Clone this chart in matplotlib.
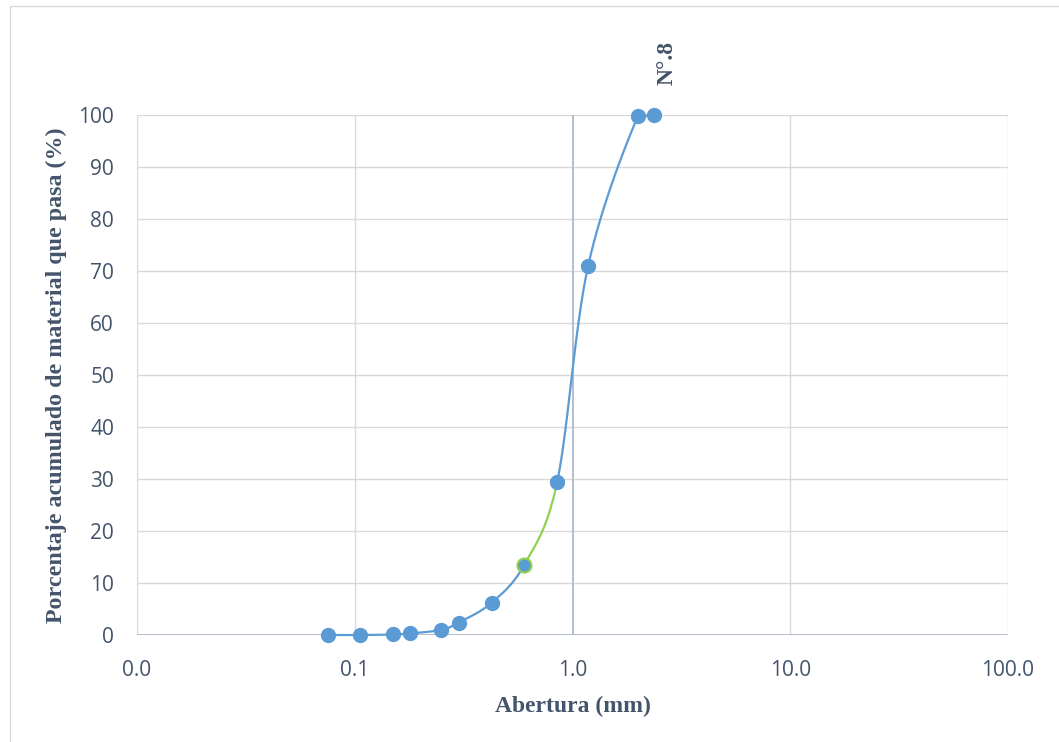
import matplotlib.pyplot as plt
import numpy as np
from matplotlib.patches import Rectangle

# granulometria - abertura das peneiras (mm) e % que passa
abertura = [0.075, 0.106, 0.15, 0.18, 0.25, 0.30, 0.425, 0.60, 0.85, 1.18, 2.00, 2.36]
passa = [0.0, 0.0, 0.1, 0.3, 1.0, 2.4, 6.2, 13.5, 29.4, 71.0, 99.8, 100.0]
xticks = [0.01, 0.1, 1, 10, 100]
xtick_labels = ["0.0", "0.1", "1.0", "10.0", "100.0"]
yticks = list(range(0, 101, 10))

azul = "#5B9BD5"
verde = "#92D050"
cinza_texto = "#44546A"


def suavizar(xs, ys, n=40):
    # curva suave tipo excel (catmull-rom) em escala log
    lx = np.log10(xs)
    ys = np.array(ys, dtype=float)
    pts = np.column_stack([lx, ys])
    segs = []
    for i in range(len(pts) - 1):
        p0 = pts[i - 1] if i > 0 else pts[i]
        p1 = pts[i]
        p2 = pts[i + 1]
        p3 = pts[i + 2] if i + 2 < len(pts) else pts[i + 1]
        c1 = p1 + (p2 - p0) / 6
        c2 = p2 - (p3 - p1) / 6
        if i == len(pts) - 2:
            # ultimo trecho reto, evita o laço acima de 100
            c1, c2 = p1, p2
        t = np.linspace(0, 1, n)[:, None]
        b = (1 - t) ** 3 * p1 + 3 * (1 - t) ** 2 * t * c1 + 3 * (1 - t) * t ** 2 * c2 + t ** 3 * p2
        segs.append((10 ** b[:, 0], b[:, 1]))
    return segs


fig = plt.figure(figsize=(10.59, 7.42), dpi=100)
fig.patches.append(Rectangle((10 / 1059, -0.01), 1.0, 736 / 742 + 0.01, transform=fig.transFigure,
                             fill=False, edgecolor="#D9D9D9", linewidth=1))
ax = fig.add_axes([137 / 1059, 107 / 742, 871 / 1059, 520 / 742])

ax.set_xscale("log")
ax.set_xlim(0.01, 100)
ax.set_ylim(0, 100)

for y in yticks[1:]:
    ax.axhline(y, color="#D9D9D9", linewidth=1, zorder=1)
for x in [0.01, 0.1, 10, 100]:
    ax.axvline(x, color="#D9D9D9", linewidth=1, zorder=1)
ax.axvline(1, color="#ADB9CA", linewidth=1.3, zorder=1)
ax.axhline(0, color="#ADB9CA", linewidth=1.3, zorder=1)

segs = suavizar(abertura, passa)
for i, (sx, sy) in enumerate(segs):
    cor = verde if i == 7 else azul
    ax.plot(sx, sy, color=cor, linewidth=1.6, zorder=3, clip_on=False)

ax.plot(abertura, passa, linestyle="none", marker="o", markersize=10,
        markerfacecolor=azul, markeredgecolor=azul, zorder=4, clip_on=False)
ax.plot(abertura[7], passa[7], linestyle="none", marker="o", markersize=10,
        markerfacecolor=azul, markeredgecolor=verde, markeredgewidth=1.5, zorder=5)

for s in ax.spines.values():
    s.set_visible(False)
ax.set_xticks(xticks)
ax.set_xticklabels(xtick_labels)
ax.set_yticks(yticks)
ax.minorticks_off()
ax.tick_params(length=0, labelsize=15, labelcolor=cinza_texto)
ax.tick_params(axis="x", pad=18)
ax.tick_params(axis="y", pad=16.5)
for lab in ax.get_xticklabels() + ax.get_yticklabels():
    lab.set_family("Open Sans")

ax.set_xlabel("Abertura (mm)", fontfamily="Liberation Serif", fontweight="bold",
              fontsize=17, color=cinza_texto, labelpad=11)
ax.set_ylabel("Porcentaje acumulado de material que pasa (%)", fontfamily="Liberation Serif",
              fontweight="bold", fontsize=17.3, color=cinza_texto, labelpad=8)

ax.text(2.72, 110, "N°.8", rotation=90, ha="center", va="center", fontfamily="Liberation Serif",
        fontweight="bold", fontsize=17, color=cinza_texto, clip_on=False)

fig.savefig("out.png", dpi=100)
